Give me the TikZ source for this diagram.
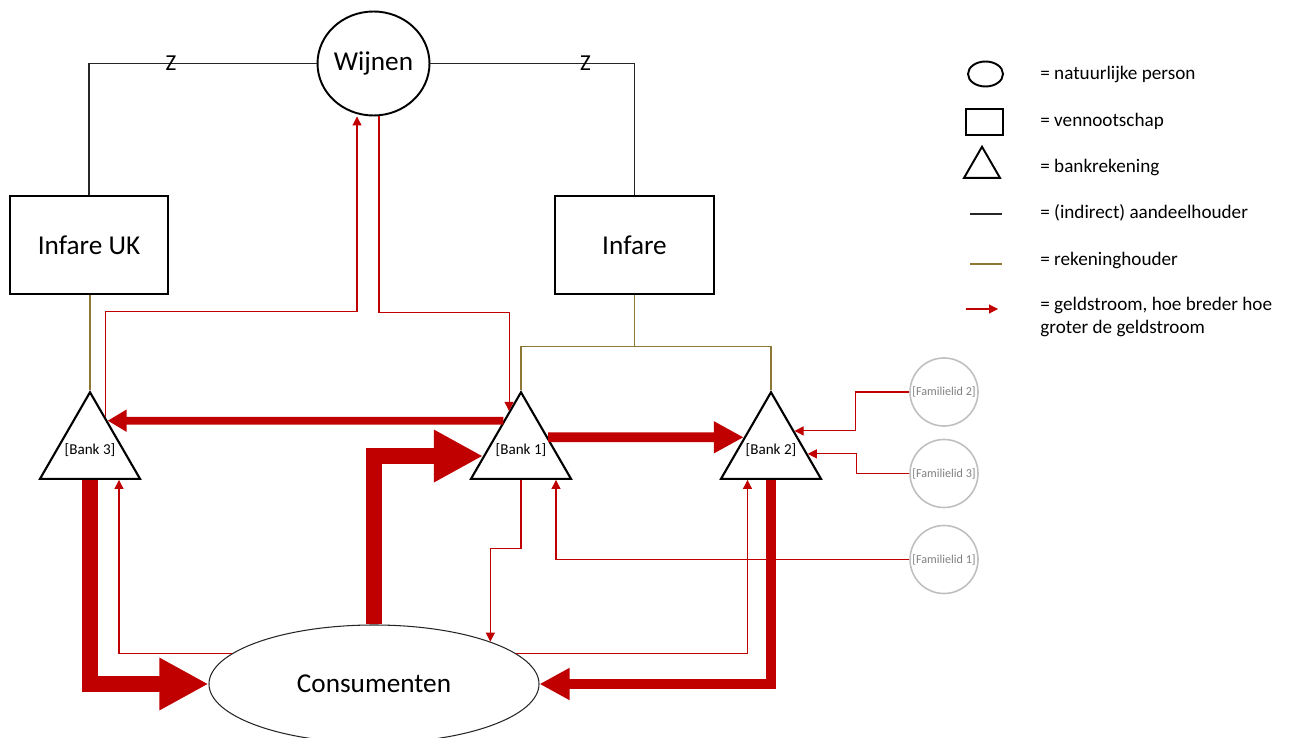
\documentclass[tikz,border=0pt]{standalone}
\usepackage{fontspec}
\setmainfont{Carlito}
\usepackage{xcolor}
\usepackage{tikz}
\usetikzlibrary{shapes.geometric,arrows.meta}
\definecolor{cflow}{HTML}{C00000}
\definecolor{chold}{HTML}{8F7834}
\definecolor{cfam}{HTML}{BFBFBF}
\definecolor{cfamtext}{HTML}{7F7F7F}
\definecolor{cedge}{HTML}{262626}

\tikzset{
  person/.style={draw=black,line width=1.1pt,ellipse,inner sep=0pt,
    font=\fontsize{15.5}{18}\selectfont},
  company/.style={draw=black,line width=1.3pt,rectangle,inner sep=0pt,
    minimum height=1.96cm,font=\fontsize{15.5}{18}\selectfont},
  account/.style={draw=black,line width=1.2pt,regular polygon,
    regular polygon sides=3,minimum size=2.31cm,inner sep=0pt,
    font=\fontsize{8.6}{10}\selectfont},
  relative/.style={draw=cfam,line width=0.9pt,circle,minimum size=1.36cm,
    inner sep=0pt,text=cfamtext,font=\fontsize{6.9}{8}\selectfont},
  owner/.style={draw=cedge,line width=0.6pt},
  holder/.style={draw=chold,line width=0.6pt},
  zmark/.style={font=\fontsize{13}{15}\selectfont,inner sep=0pt},
  thinflow/.style={draw=cflow,line width=0.6pt,
    -{Triangle[length=0.18cm,width=0.18cm]}},
  smallflow/.style={draw=cflow,line width=4.4pt,
    -{Triangle[length=0.38cm,width=0.42cm]}},
  midflow/.style={draw=cflow,line width=5.6pt,
    -{Triangle[length=0.6cm,width=0.6cm]}},
  bigflow/.style={draw=cflow,line width=9.2pt,
    -{Triangle[length=0.98cm,width=0.98cm]}},
  legendtext/.style={anchor=west,align=left,inner sep=0pt,
    font=\fontsize{10.9}{13.4}\selectfont}
}

\begin{document}
\begin{tikzpicture}
  \useasboundingbox (0,0) rectangle (25.78,-14.76);
  % persons and companies
  \node[person,minimum width=2.17cm,minimum height=2.08cm] (wijnen) at (7.47,-1.27) {Wijnen};
  \node[company,minimum width=3.15cm] (infareuk) at (1.78,-4.9) {Infare UK};
  \node[company,minimum width=3.18cm] (infare) at (12.69,-4.9) {Infare};
  \node[person,draw=cedge,line width=0.6pt,minimum width=6.6cm,minimum height=2.36cm] (cons) at (7.48,-13.68) {Consumenten};
  % bank accounts
  \node[account] (bank3) at (1.8,-9.0) {\makebox[0pt]{[Bank 3]}};
  \node[account] (bank1) at (10.42,-9.0) {\makebox[0pt]{[Bank 1]}};
  \node[account] (bank2) at (15.42,-9.0) {\makebox[0pt]{[Bank 2]}};
  % family members
  \node[relative] (fam2) at (18.88,-7.84) {[Familielid 2]};
  \node[relative] (fam3) at (18.88,-9.47) {[Familielid 3]};
  \node[relative] (fam1) at (18.88,-11.19) {[Familielid 1]};

  % shareholders
  \draw[owner] (wijnen.west) -| node[zmark,pos=0.32] (zleft) {Z} (infareuk.north);
  \draw[owner] (wijnen.east) -| node[zmark,pos=0.38] (zright) {Z} (infare.north);
  % account holders
  \draw[holder] (bank3.corner 1) -- (bank3.corner 1 |- infareuk.south);
  \draw[holder] (infare.south) -- ++(0,-1.02) coordinate (split);
  \draw[holder] (bank1.corner 1) |- (split) -| (bank2.corner 1);

  % small money flows
  \draw[thinflow] (bank3.65) -- ++(0,2.1) -| ([xshift=-0.33cm]wijnen.south);
  \draw[thinflow] ([xshift=0.11cm]wijnen.south) -- ++(0,-3.92) -| (bank1.107);
  \draw[thinflow] (cons.168) -| ([xshift=0.58cm]bank3.south);
  \draw[thinflow] (bank1.south) -- ++(0,-1.38) -| (cons.20);
  \draw[thinflow] (cons.12) -| ([xshift=-0.47cm]bank2.south);
  \draw[thinflow] (fam1.west) -| ([xshift=0.7cm]bank1.south);
  \draw[thinflow] (fam2.west) -- ++(-1.08,0) |- (bank2.39);
  \draw[thinflow] (fam3.west) -- ++(-1.06,0) |- (bank2.354);

  % large money flows
  \draw[smallflow] (bank1.121) -- (bank3.59);
  \draw[midflow] (bank1.25) -- (bank2.155);
  \draw[bigflow] (cons.north) |- (bank1.189);
  \draw[bigflow] (bank3.south) |- (cons.west);
  \draw[midflow] (bank2.south) |- (cons.east);

  % legend
  \node[draw=black,line width=1.1pt,ellipse,minimum width=0.7cm,minimum height=0.5cm] (legperson) at (19.71,-1.48) {};
  \node[legendtext] (legpersontext) at (20.8,-1.48) {= natuurlijke person};
  \node[draw=black,line width=1.1pt,minimum width=0.74cm,minimum height=0.52cm] (legcompany) at (19.69,-2.44) {};
  \node[legendtext] (legcompanytext) at (20.8,-2.43) {= vennootschap};
  \node[draw=black,line width=1.1pt,regular polygon,regular polygon sides=3,minimum size=0.83cm,inner sep=0pt] (legaccount) at (19.64,-3.35) {};
  \node[legendtext] (legaccounttext) at (20.8,-3.34) {= bankrekening};
  \draw[owner] (19.4,-4.28) -- (20.04,-4.28);
  \node[legendtext] (legownertext) at (20.8,-4.26) {= (indirect) aandeelhouder};
  \draw[holder] (19.4,-5.28) -- (20.04,-5.28);
  \node[legendtext] (legholdertext) at (20.8,-5.2) {= rekeninghouder};
  \draw[thinflow] (19.32,-6.18) -- (19.96,-6.18);
  \node[legendtext] (legflowtext) at (20.8,-6.34) {= geldstroom, hoe breder hoe\\groter de geldstroom};
\end{tikzpicture}
\end{document}
